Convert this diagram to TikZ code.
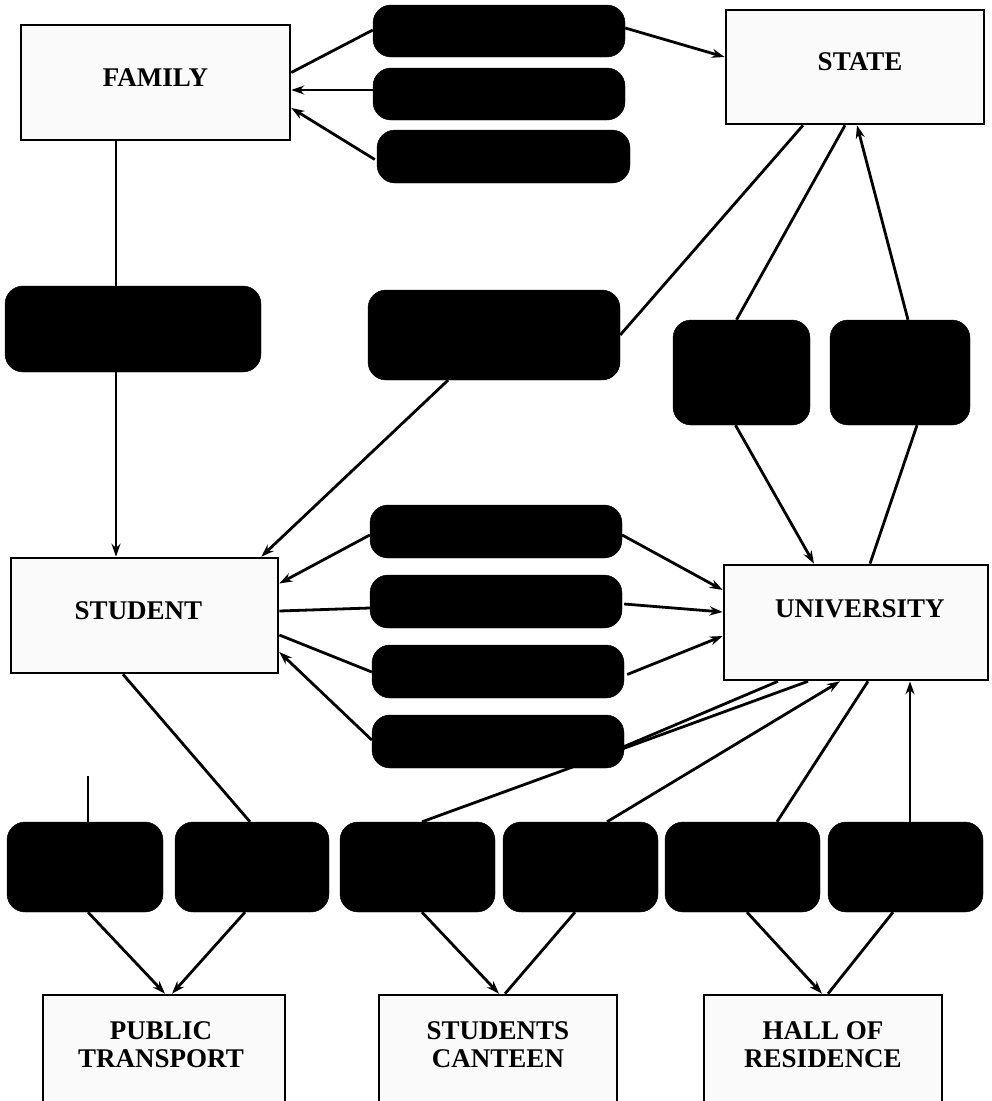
\documentclass[tikz,border=0pt]{standalone}
\usepackage{fontspec}
\setmainfont{Liberation Serif}
\usetikzlibrary{calc,arrows.meta}
\begin{document}
\begin{tikzpicture}[x=1pt,y=-1pt,
  wbox/.style={draw=black,line width=2.6pt,fill=gray!4,inner sep=0pt},
  txt/.style={font=\fontsize{27}{28}\selectfont\bfseries,align=center,inner sep=0pt},
  bbox/.style={draw=black,fill=black,rounded corners=18pt,inner sep=0pt},
  conn/.style={line width=2.8pt,black},
  arr/.style={conn,-{Stealth[length=13pt,width=9pt]}}]
\useasboundingbox[fill=white] (0,0) rectangle (992,1101);
% white boxes
\node[wbox,minimum width=269pt,minimum height=115pt,
  label={[txt,yshift=5pt]center:FAMILY}] (fam) at (155.5,82.5) {};
\node[wbox,minimum width=258pt,minimum height=114pt,
  label={[txt,yshift=5pt,xshift=5pt]center:STATE}] (state) at (855,67) {};
\node[wbox,minimum width=267pt,minimum height=115pt,
  label={[txt,yshift=5pt,xshift=-6pt]center:STUDENT}] (stud) at (144.5,615.5) {};
\node[wbox,minimum width=264pt,minimum height=115pt,
  label={[txt,yshift=14pt,xshift=4pt]center:UNIVERSITY}] (univ) at (856,622.5) {};
\node[wbox,minimum width=242pt,minimum height=115pt,
  label={[txt,yshift=8pt,xshift=-3pt]center:PUBLIC\\TRANSPORT}] (pt) at (164,1052.5) {};
\node[wbox,minimum width=238pt,minimum height=115pt,
  label={[txt,yshift=8pt]center:STUDENTS\\CANTEEN}] (cant) at (498,1052.5) {};
\node[wbox,minimum width=238pt,minimum height=115pt,
  label={[txt,yshift=8pt]center:HALL OF\\RESIDENCE}] (hall) at (823,1052.5) {};
% black boxes
\node[bbox,minimum width=252pt,minimum height=52pt] (b1) at (499,31) {};
\node[bbox,minimum width=252pt,minimum height=52pt] (b2) at (499,94) {};
\node[bbox,minimum width=253pt,minimum height=53pt] (b3) at (503.5,156.5) {};
\node[bbox,minimum width=256pt,minimum height=86pt] (lm) at (133,329) {};
\node[bbox,minimum width=252pt,minimum height=90pt] (mm) at (494,335) {};
\node[bbox,minimum width=137pt,minimum height=105pt] (rp1) at (741.5,372.5) {};
\node[bbox,minimum width=140pt,minimum height=105pt] (rp2) at (900,372.5) {};
\node[bbox,minimum width=252pt,minimum height=53pt] (m1) at (496,531.5) {};
\node[bbox,minimum width=252pt,minimum height=53pt] (m2) at (496,601.5) {};
\node[bbox,minimum width=252pt,minimum height=53pt] (m3) at (498,671.5) {};
\node[bbox,minimum width=252pt,minimum height=53pt] (m4) at (498,741.5) {};
\node[bbox,minimum width=156pt,minimum height=90pt] (r1) at (85,867) {};
\node[bbox,minimum width=154pt,minimum height=90pt] (r2) at (252,867) {};
\node[bbox,minimum width=155pt,minimum height=90pt] (r3) at (417.5,867) {};
\node[bbox,minimum width=155pt,minimum height=90pt] (r4) at (580.5,867) {};
\node[bbox,minimum width=155pt,minimum height=90pt] (r5) at (742.5,867) {};
\node[bbox,minimum width=155pt,minimum height=90pt] (r6) at (905.5,867) {};
\coordinate (free) at (88,776);
% connectors top
\draw[conn] ($(fam.east)+(0,-10)$) -- ($(b1.west)+(0,-1)$);
\draw[arr] ($(b1.east)+(0,-3)$) -- ($(state.west)+(0,-10)$);
\draw[arr] ($(b2.west)+(0,-4)$) -- ($(fam.east)+(0,7.5)$);
\draw[arr] ($(b3.west)+(-2,3)$) -- ($(fam.east)+(0,25.5)$);
\draw[conn] ($(fam.south)+(-39.5,0)$) -- ($(lm.north)+(-17,0)$);
\draw[arr] ($(lm.south)+(-17,0)$) -- ($(stud.north)+(-28.5,0)$);
\draw[conn] ($(state.south)+(-52,0)$) -- (mm.east);
\draw[arr] ($(mm.south)+(-46,0)$) -- ($(stud.north east)+(-18,0)$);
\draw[conn] ($(state.south)+(-10,0)$) -- ($(rp1.north)+(-5,0)$);
\draw[arr] ($(rp1.south)+(-6,0)$) -- ($(univ.north)+(-42,0)$);
\draw[conn] ($(univ.north)+(14,0)$) -- ($(rp2.south)+(17,0)$);
\draw[arr] ($(rp2.north)+(8,0)$) -- ($(state.south)+(2,0)$);
% middle
\draw[arr] ($(m1.west)+(0,3.5)$) -- ($(stud.east)+(0,-32)$);
\draw[arr] ($(m1.east)+(0,3.5)$) -- ($(univ.west)+(0,-32.5)$);
\draw[conn] ($(stud.east)+(0,-4.5)$) -- ($(m2.west)+(0,6.5)$);
\draw[arr] ($(m2.east)+(2,2.5)$) -- ($(univ.west)+(0,-10.5)$);
\draw[conn] ($(stud.east)+(0,19.5)$) -- ($(m3.west)+(0,0.5)$);
\draw[arr] ($(m3.east)+(3,3)$) -- ($(univ.west)+(0,13.5)$);
\draw[arr] ($(m4.west)+(0,-1.5)$) -- ($(stud.east)+(0,36.5)$);
\draw[conn] ($(m4.east)+(0,5)$) -- ($(univ.south)+(-78,0)$);
% bottom row to university
\draw[conn] ($(r3.north)+(4.5,0)$) -- ($(univ.south)+(-48,0)$);
\draw[arr] ($(r4.north)+(26.5,0)$) -- ($(univ.south)+(-16,0)$);
\draw[conn] ($(univ.south)+(12,0)$) -- ($(r5.north)+(34.5,0)$);
\draw[arr] ($(r6.north)+(4.5,0)$) -- ($(univ.south)+(54,0)$);
\draw[conn] ($(stud.south)+(-21.5,0)$) -- ($(r2.north)+(-2,0)$);
\draw[conn] (free) -- ($(r1.north)+(3,0)$);
% bottom row to destinations
\draw[arr] ($(r1.south)+(3,0)$) -- ($(pt.north)+(1,0)$);
\draw[arr] ($(r2.south)+(-7,0)$) -- ($(pt.north)+(8,0)$);
\draw[arr] ($(r3.south)+(4.5,0)$) -- ($(cant.north)+(1,0)$);
\draw[conn] ($(r4.south)+(-5.5,0)$) -- ($(cant.north)+(7,0)$);
\draw[arr] ($(r5.south)+(4.5,0)$) -- ($(hall.north)+(-1,0)$);
\draw[conn] ($(r6.south)+(-12.5,0)$) -- ($(hall.north)+(5,0)$);
\end{tikzpicture}
\end{document}
